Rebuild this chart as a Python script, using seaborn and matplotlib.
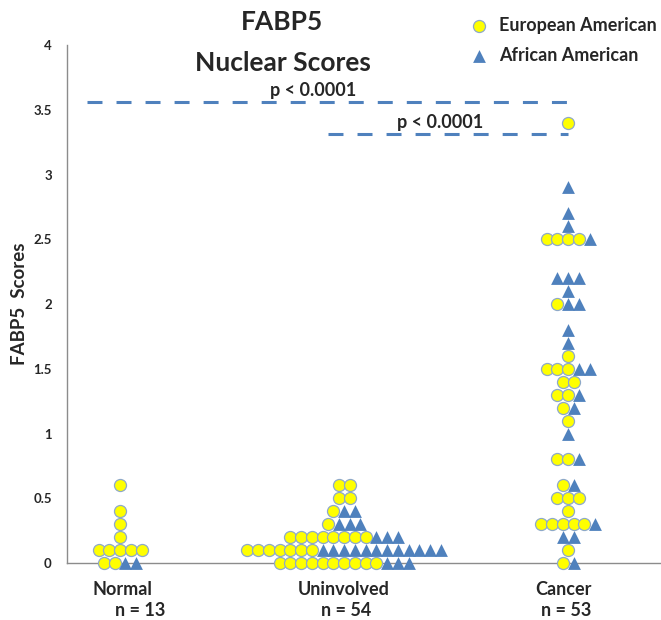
import matplotlib as mpl
mpl.use('Agg')
import matplotlib.pyplot as plt
import matplotlib.transforms as mtransforms
import seaborn as sns
import pandas as pd

# Data (FABP5 nuclear scores, one value per patient)
GROUPS = ["Normal", "Uninvolved", "Cancer"]
N_LABELS = ["n = 13", "n = 54", "n = 53"]

normal_ea = [0.6, 0.4, 0.3, 0.2, 0.1, 0.1, 0.1, 0.1, 0.1, 0.0, 0.0]
normal_aa = [0.0, 0.0]

uninvolved_ea = [0.6, 0.6, 0.5, 0.5, 0.4, 0.3,
                 0.2, 0.2, 0.2, 0.2, 0.2, 0.2, 0.2, 0.2,
                 0.1, 0.1, 0.1, 0.1, 0.1, 0.1, 0.1,
                 0.0, 0.0, 0.0, 0.0, 0.0, 0.0, 0.0, 0.0, 0.0, 0.0]
uninvolved_aa = [0.4, 0.4, 0.3, 0.3, 0.3, 0.2, 0.2, 0.2,
                 0.1, 0.1, 0.1, 0.1, 0.1, 0.1, 0.1, 0.1, 0.1, 0.1, 0.1, 0.1,
                 0.0, 0.0, 0.0]

cancer_ea = [3.4, 2.5, 2.5, 2.5, 2.5, 2.0, 1.6, 1.5, 1.5, 1.5, 1.4, 1.4,
             1.3, 1.3, 1.2, 1.1, 0.8, 0.8, 0.6, 0.5, 0.5, 0.5, 0.4,
             0.3, 0.3, 0.3, 0.3, 0.3, 0.1, 0.0]
cancer_aa = [2.9, 2.7, 2.6, 2.5, 2.2, 2.2, 2.2, 2.1, 2.0, 2.0, 1.8, 1.7,
             1.5, 1.5, 1.3, 1.2, 1.0, 0.8, 0.6, 0.3, 0.2, 0.2, 0.0]

EA_LABEL = "European American"
AA_LABEL = "African American"

YTICKS = [0, 0.5, 1, 1.5, 2, 2.5, 3, 3.5, 4]
YTICK_LABELS = ["0", "0.5", "1", "1.5", "2", "2.5", "3", "3.5", "4"]

P_TEXT = "p < 0.0001"

BLUE = "#4F81BD"
YELLOW = "#FFFF00"
EDGE = "#8EA9C9"
SPINE = "#8C8C8C"
STEP = 0.048  # horizontal spacing of markers within one score row


def build_frame():
    rows = []
    per_group = [(normal_ea, normal_aa), (uninvolved_ea, uninvolved_aa),
                 (cancer_ea, cancer_aa)]
    for gi, (ea, aa) in enumerate(per_group):
        levels = sorted(set(round(v, 1) for v in ea + aa))
        for lev in levels:
            row = [EA_LABEL] * sum(1 for v in ea if round(v, 1) == lev)
            row += [AA_LABEL] * sum(1 for v in aa if round(v, 1) == lev)
            n = len(row)
            # lay the row out centred on the group, EA first then AA
            for k, pop in enumerate(row):
                rows.append({"group": GROUPS[gi], "pop": pop, "score": lev,
                             "x": gi + (k - (n - 1) / 2.0) * STEP})
    return pd.DataFrame(rows)


sns.set_style("white")
plt.rcParams['font.family'] = ['Lato', 'DejaVu Sans']
plt.rcParams['font.weight'] = 'bold'

fig = plt.figure(figsize=(6.61, 6.20), dpi=100)
ax = fig.add_axes([0.1014, 0.0919, 0.8971, 0.8355])

df = build_frame()
sns.scatterplot(data=df[df["pop"] == EA_LABEL], x="x", y="score",
                marker="o", s=75, color=YELLOW, edgecolor=EDGE,
                linewidth=0.9, clip_on=False, zorder=3, ax=ax,
                label=EA_LABEL)
sns.scatterplot(data=df[df["pop"] == AA_LABEL], x="x", y="score",
                marker="^", s=85, color=BLUE, linewidth=0,
                clip_on=False, zorder=3, ax=ax, label=AA_LABEL)

ax.set_xlim(-0.237, 2.41)
ax.set_ylim(0, 4)

# significance lines
dash = (0, (4.9, 4.6))
ax.plot([-0.15, 2.0], [3.56, 3.56], color=BLUE, lw=2.2, linestyle=dash)
ax.plot([0.93, 2.0], [3.31, 3.31], color=BLUE, lw=2.2, linestyle=dash)
ax.text(0.86, 3.65, P_TEXT, ha="center", va="center", fontsize=13,
        fontweight="bold")
ax.text(1.43, 3.40, P_TEXT, ha="center", va="center", fontsize=13,
        fontweight="bold")

# axes styling
for side in ["top", "right"]:
    ax.spines[side].set_visible(False)
for side in ["left", "bottom"]:
    ax.spines[side].set_color(SPINE)
    ax.spines[side].set_linewidth(1.0)

ax.set_yticks(YTICKS)
ax.set_yticklabels(YTICK_LABELS, fontsize=9.5, fontweight="bold")
ax.tick_params(axis="y", length=0, pad=11)
ax.set_xticks([0.01, 1.0, 1.98])
ax.set_xticklabels(GROUPS, fontsize=13, fontweight="bold")
ax.tick_params(axis="x", length=0, pad=13)
ax.set_xlabel("")
ax.set_ylabel("FABP5  Scores", fontsize=13.5, fontweight="bold", labelpad=4)

trans = mtransforms.blended_transform_factory(ax.transData, ax.transAxes)
for x, lab in zip([0.09, 1.01, 1.99], N_LABELS):
    ax.text(x, -0.091, lab, transform=trans, ha="center", va="center",
            fontsize=13, fontweight="bold")

# title
fig.text(0.4266, 0.9645, "FABP5", ha="center", va="center", fontsize=19,
         fontweight="bold")
fig.text(0.428, 0.898, "Nuclear Scores", ha="center", va="center",
         fontsize=19, fontweight="bold")

ax.legend(loc="upper right", bbox_to_anchor=(1.0, 1.062), frameon=False,
          prop={"size": 13, "weight": "bold"}, handletextpad=0.1,
          borderaxespad=0, labelspacing=0.75, borderpad=0.2)

fig.savefig("out.png", dpi=100)
